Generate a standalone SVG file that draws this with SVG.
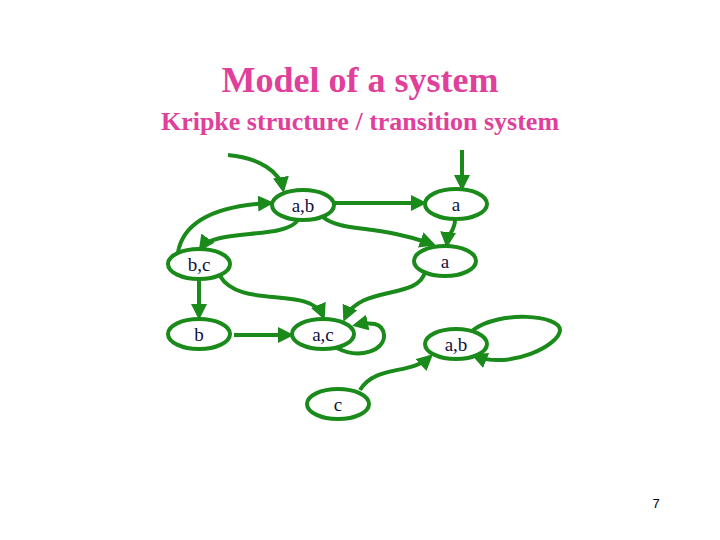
<svg xmlns="http://www.w3.org/2000/svg" width="720" height="540" viewBox="0 0 720 540">
<style>
.n{fill:#fff;stroke:#1a8a1a;stroke-width:4}
.e{fill:none;stroke:#1a8a1a;stroke-width:4;marker-end:url(#ah)}
.l{font-family:"Liberation Serif",serif;font-size:19px;fill:#101040;text-anchor:middle}
</style>
<defs><marker id="ah" markerWidth="4" markerHeight="4" refX="3" refY="2" orient="auto"><path d="M0,0L4,2L0,4z" fill="#1a8a1a"/></marker></defs>
<rect width="720" height="540" fill="#fff"/>
<text x="360" y="92" font-family="Liberation Serif,serif" font-size="36" font-weight="bold" fill="#e0409a" text-anchor="middle">Model of a system</text>
<text x="360" y="130" font-family="Liberation Serif,serif" font-size="26" font-weight="bold" fill="#e0409a" text-anchor="middle">Kripke structure / transition system</text>
<g id="edges">
<path class="e" d="M228,155 C260,158 280,172 283,189"/>
<path class="e" d="M462,150 L462,187"/>
<path class="e" d="M335,203 L423,203"/>
<path class="e" d="M455,220 C455,230 448,234 447,244"/>
<path class="e" d="M323,217 C340,232 380,225 432,244"/>
<path class="e" d="M178,252 C185,215 230,205 270,203"/>
<path class="e" d="M298,220 C285,240 215,228 201,248"/>
<path class="e" d="M199,280 L199,316"/>
<path class="e" d="M220,276 C240,310 310,285 323,316"/>
<path class="e" d="M425,272 C418,300 360,285 345,318"/>
<path class="e" d="M234,335 L290,335"/>
<path class="e" d="M337,348 C360,360 385,350 384,335 C383,322 370,322 356,325"/>
<path class="e" d="M473,330 C500,310 560,315 560,330 C560,345 510,370 475,356"/>
<path class="e" d="M360,390 C375,365 410,375 430,357"/>
</g>
<g id="n1"><ellipse class="n" cx="303" cy="205" rx="31" ry="15"/><text class="l" x="303" y="212">a,b</text></g>
<g id="n2"><ellipse class="n" cx="456" cy="204" rx="31" ry="15"/><text class="l" x="456" y="211">a</text></g>
<g id="n3"><ellipse class="n" cx="199" cy="264" rx="31" ry="15"/><text class="l" x="199" y="271">b,c</text></g>
<g id="n4"><ellipse class="n" cx="445" cy="261" rx="31" ry="15"/><text class="l" x="445" y="268">a</text></g>
<g id="n5"><ellipse class="n" cx="199" cy="334" rx="31" ry="15"/><text class="l" x="199" y="341">b</text></g>
<g id="n6"><ellipse class="n" cx="323" cy="334" rx="31" ry="15"/><text class="l" x="323" y="341">a,c</text></g>
<g id="n7"><ellipse class="n" cx="456" cy="344" rx="31" ry="15"/><text class="l" x="456" y="351">a,b</text></g>
<g id="n8"><ellipse class="n" cx="338" cy="404" rx="31" ry="15"/><text class="l" x="338" y="411">c</text></g>
<text x="656" y="508" font-family="Liberation Sans,sans-serif" font-size="13" fill="#000" text-anchor="middle">7</text>
</svg>
